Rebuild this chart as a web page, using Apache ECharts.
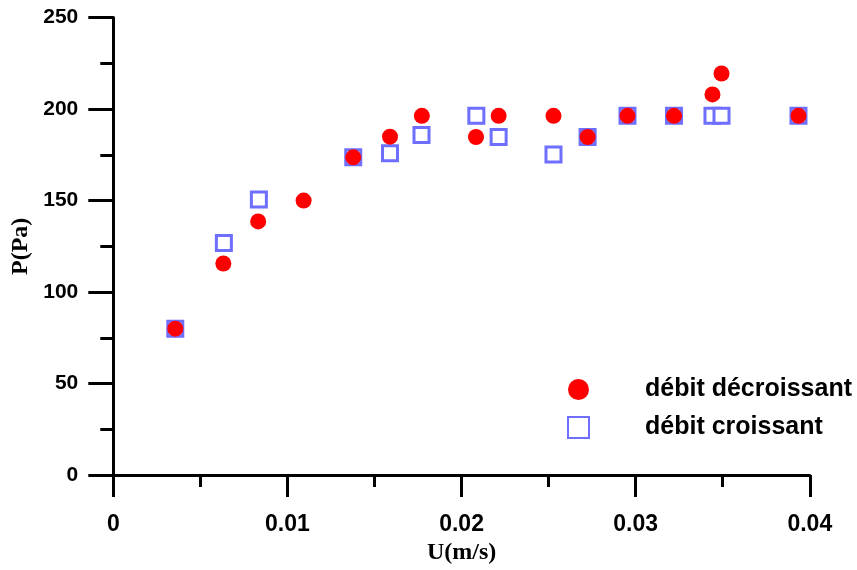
<!DOCTYPE html>
<html>
<head>
<meta charset="utf-8">
<script src="https://cdn.jsdelivr.net/npm/echarts@6/dist/echarts.min.js"></script>
<style>html,body{margin:0;padding:0;background:#fff;}#c{width:857px;height:570px;}</style>
</head>
<body>
<div id="c"></div>
<script>
// débit décroissant (red circles)
const decroissantU = [0.00356, 0.00632, 0.00832, 0.01093, 0.01378, 0.01589, 0.01772, 0.02083, 0.02213, 0.02528, 0.02724, 0.02953, 0.0322, 0.03441, 0.03493, 0.03935];
const decroissantP = [80, 115.6, 138.6, 150, 173.6, 184.9, 196.3, 184.7, 196.3, 196.3, 184.7, 196.3, 196.3, 208, 219.4, 196.3];
// débit croissant (blue squares)
const croissantU = [0.00356, 0.00635, 0.00836, 0.01378, 0.01589, 0.0177, 0.02085, 0.02213, 0.02528, 0.02724, 0.02953, 0.0322, 0.03441, 0.03493, 0.03935];
const croissantP = [80, 126.8, 150.5, 173.6, 175.8, 185.8, 196.3, 184.7, 175.2, 184.7, 196.3, 196.3, 196.3, 196.3, 196.3];
const seriesNames = ['débit décroissant', 'débit croissant'];
const xTicks = [0, 0.01, 0.02, 0.03, 0.04];
const yTicks = [0, 50, 100, 150, 200, 250];

const zip = (a, b) => a.map((v, i) => [v, b[i]]);
const chart = echarts.init(document.getElementById('c'));
const axisLine = { show: true, lineStyle: { color: '#000', width: 3 } };
chart.setOption({
  animation: false,
  grid: { left: 113.3, right: 47.2, top: 17.5, bottom: 94.3 },
  legend: {
    data: seriesNames,
    orient: 'vertical',
    left: 562, top: 372,
    itemWidth: 21, itemHeight: 21, itemGap: 13,
    textStyle: { fontFamily: 'Liberation Sans', fontWeight: 'bold', fontSize: 25, color: '#000', padding: [0, 0, 0, 51] }
  },
  xAxis: {
    type: 'value', min: xTicks[0], max: xTicks[xTicks.length - 1], interval: 0.01,
    name: 'U(m/s)', nameLocation: 'middle', nameGap: 60,
    nameTextStyle: { fontFamily: 'Liberation Serif', fontWeight: 'bold', fontSize: 24, color: '#000' },
    axisLine: axisLine,
    axisTick: { show: true, length: 22, lineStyle: { color: '#000', width: 3 } },
    minorTick: { show: true, splitNumber: 2, length: 12, lineStyle: { color: '#000', width: 3 } },
    splitLine: { show: false },
    axisLabel: { margin: 38, fontFamily: 'Liberation Sans', fontWeight: 'bold', fontSize: 23, color: '#000' }
  },
  yAxis: {
    type: 'value', min: yTicks[0], max: yTicks[yTicks.length - 1], interval: 50,
    name: 'P(Pa)', nameLocation: 'middle', nameGap: 79,
    nameTextStyle: { fontFamily: 'Liberation Serif', fontWeight: 'bold', fontSize: 24, color: '#000' },
    axisLine: axisLine,
    axisTick: { show: true, length: 25, lineStyle: { color: '#000', width: 3 } },
    minorTick: { show: true, splitNumber: 2, length: 13, lineStyle: { color: '#000', width: 3 } },
    splitLine: { show: false },
    axisLabel: { margin: 35, fontFamily: 'Liberation Sans', fontWeight: 'bold', fontSize: 21, color: '#000' }
  },
  series: [
    {
      name: seriesNames[1], type: 'scatter', symbol: 'rect', symbolSize: 15,
      itemStyle: { color: '#fff', borderColor: '#6e6eff', borderWidth: 3, opacity: 1 },
      data: zip(croissantU, croissantP), z: 2
    },
    {
      name: seriesNames[0], type: 'scatter', symbol: 'circle', symbolSize: 16,
      itemStyle: { color: '#ff0000', opacity: 1 },
      data: zip(decroissantU, decroissantP), z: 3
    }
  ]
});
</script>
</body>
</html>
